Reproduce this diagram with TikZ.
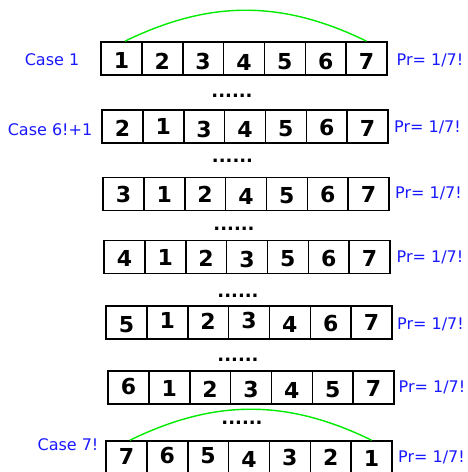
\documentclass[tikz,border=0pt]{standalone}
\usepackage{fontspec}
\setmainfont{DejaVu Sans}
\definecolor{labblue}{RGB}{25,25,255}
\definecolor{arcgreen}{RGB}{0,235,0}
\begin{document}
\begin{tikzpicture}[x=1pt,y=-1pt,
  cell/.style={draw=black,line width=1.6pt,minimum width=40.86pt,minimum height=33pt,inner sep=0pt},
  digit/.style={inner sep=0pt,font=\fontsize{22}{22}\selectfont\bfseries},
  lab/.style={text=labblue,font=\fontsize{16}{16}\selectfont,inner sep=0pt},
  dotrow/.style={font=\fontsize{18}{18}\selectfont\bfseries,inner sep=0pt,anchor=base},
  swaparc/.style={draw=arcgreen,line width=1.4pt}]
\useasboundingbox (0,0) rectangle (467,472);
\foreach \r/\x/\y/\lst in {
  1/101/58.5/{1/2,2/2.5,3/3,4/3.5,5/3,6/2.5,7/2.5},
  2/102/126.5/{2/2,1/0.3,3/2.5,4/3,5/2.5,6/1,7/2},
  3/103/194/{3/0.3,1/0,2/0,4/2,5/2,6/0.7,7/0.7},
  4/104/257/{4/1,1/0,2/1.7,3/2,5/2,6/1,7/1},
  5/106/322.5/{5/2.5,1/-2,2/-1,3/-2,4/2,6/1,7/0},
  6/108/387.5/{6/-1.5,1/0.5,2/1.5,3/1.5,4/3,5/2.5,7/0.5},
  7/106/457.5/{7/-0.8,6/-1.8,5/-1.5,4/2.2,3/-0.5,2/-0.5,1/0.5}} {
  \foreach \d/\dy [count=\i] in \lst {
    \node[cell] (r\r-\i) at ({\x+40.86*\i-20.43}, \y) {};
    \node[digit] (n\r-\i) at ({\x+40.86*\i-20.43}, {\y+\dy}) {\d};
  }
}
% labels
\node[lab] (case1) at (52,60) {Case 1};
\node[lab] (case2) at (50,130) {Case 6!+1};
\node[lab] (case7) at (68,445) {Case 7!};
\node[lab] (pr1) at (430,60) {Pr= 1/7!};
\node[lab] (pr2) at (427.5,127) {Pr= 1/7!};
\node[lab] (pr3) at (428.5,193) {Pr= 1/7!};
\node[lab] (pr4) at (430,257) {Pr= 1/7!};
\node[lab] (pr5) at (430.5,324) {Pr= 1/7!};
\node[lab] (pr6) at (432,387) {Pr= 1/7!};
\node[lab] (pr7) at (431.5,457) {Pr= 1/7!};
% dots
\node[dotrow] (d1) at (232,97.5) {......};
\node[dotrow] (d2) at (232.5,162.5) {......};
\node[dotrow] (d3) at (234,230.5) {......};
\node[dotrow] (d4) at (238,297.5) {......};
\node[dotrow] (d5) at (238,361.5) {......};
\node[dotrow] (d6) at (242,424.5) {......};
% swap arcs
\draw[swaparc] ([xshift=3.5pt]r1-1.north) to[bend left=26] (r1-7.north);
\draw[swaparc] ([xshift=3.5pt]r7-1.north) to[bend left=26] (r7-7.north);
\end{tikzpicture}
\end{document}
